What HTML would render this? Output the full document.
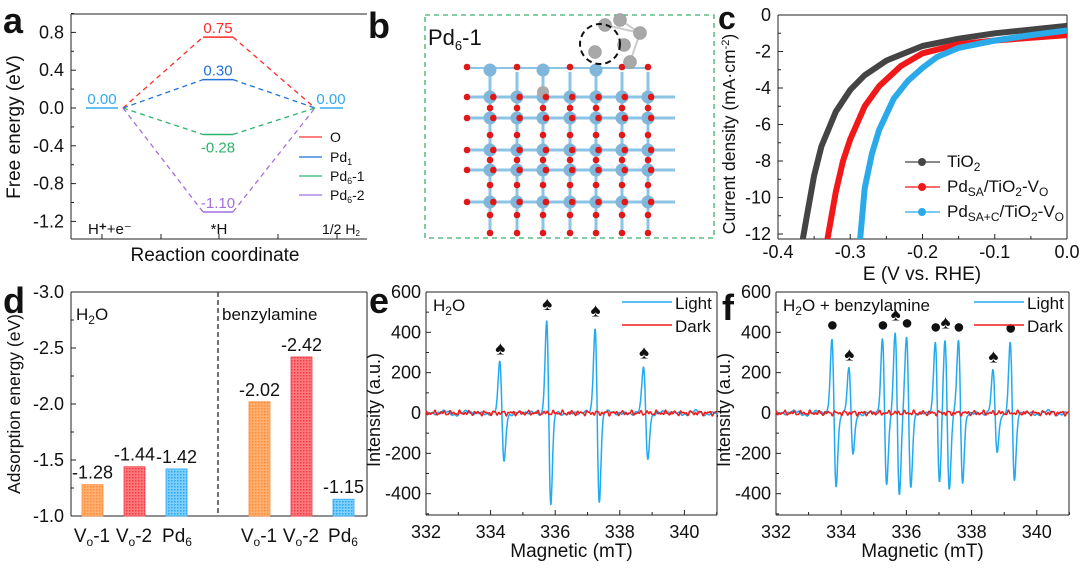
<!DOCTYPE html>
<html><head><meta charset="utf-8"><style>
body{margin:0;background:#fff;width:1080px;height:571px;overflow:hidden;font-family:"Liberation Sans",Arial,sans-serif}
svg text{font-family:"Liberation Sans",Arial,sans-serif}
</style></head><body>
<svg id="s" width="1080" height="571" viewBox="0 0 1080 571" xmlns="http://www.w3.org/2000/svg">
<defs>
<pattern id="po" width="3" height="3" patternUnits="userSpaceOnUse"><rect width="3" height="3" fill="#ffb070"/><rect width="1.5" height="1.5" fill="#ff8c3a"/></pattern>
<pattern id="pr" width="3" height="3" patternUnits="userSpaceOnUse"><rect width="3" height="3" fill="#ff7b7b"/><rect width="1.5" height="1.5" fill="#f03a4a"/></pattern>
<pattern id="pb" width="3" height="3" patternUnits="userSpaceOnUse"><rect width="3" height="3" fill="#7fd0ff"/><rect width="1.5" height="1.5" fill="#2aa4f0"/></pattern>
<clipPath id="cc"><rect x="778" y="15" width="289" height="224"/></clipPath>
</defs>
<g id="g"></g>
</svg>
<script>
const g=document.getElementById('g');let h='';
function T(x,y,t,o){o=o||{};h+=`<text x="${x}" y="${y}" font-size="${o.s||18}" fill="${o.c||'#111'}" text-anchor="${o.a||'start'}" ${o.w?'font-weight="bold"':''} ${o.r?`transform="rotate(-90 ${x} ${y})"`:''}>${t}</text>`;}
function L(x1,y1,x2,y2,c,w,d){h+=`<line x1="${x1}" y1="${y1}" x2="${x2}" y2="${y2}" stroke="${c||'#222'}" stroke-width="${w||1}" ${d?`stroke-dasharray="${d}"`:''}/>`;}
function P(pts,c,w,extra){h+=`<polyline fill="none" stroke="${c}" stroke-width="${w}" stroke-linejoin="round" points="${pts.map(p=>p[0].toFixed(1)+','+p[1].toFixed(1)).join(' ')}" ${extra||''}/>`;}
// panel letters
T(3,33,'a',{s:36,w:1});T(368,38,'b',{s:36,w:1});T(718,29,'c',{s:32,w:1});T(3,313,'d',{s:36,w:1});T(369,313,'e',{s:36,w:1});T(722,320,'f',{s:36,w:1});
// ===== a
L(71,14,367,14);L(71,14,71,239);L(71,239,367,239);
const ya=v=>108-v*94.5;
[0.8,0.4,0,-0.4,-0.8,-1.2].forEach(v=>{L(71,ya(v),76,ya(v));T(64,ya(v)+6,v.toFixed(1),{a:'end'});});
[-1,-0.6,-0.2,0.2,0.6,1.0].forEach(v=>L(71,ya(v),74,ya(v)));
[102,161,219,278,337].forEach(x=>L(x,239,x,234));
T(20,127,'Free energy (eV)',{r:1,a:'middle',s:19});
T(215,261,'Reaction coordinate',{a:'middle',s:19});
L(86,108,118,108,'#33aaee',1.5);L(320,108,343,108,'#33aaee',1.5);
T(102,104,'0.00',{a:'middle',c:'#33aaee',s:15});T(331,104,'0.00',{a:'middle',c:'#33aaee',s:15});
[[0.75,'#ff2a2a','0.75',-1],[0.30,'#1f72d6','0.30',-1],[-0.28,'#2db36b','-0.28',1],[-1.10,'#a070e0','-1.10',-1]].forEach(([v,c,t,p])=>{
 const y=ya(v);L(123,108,203,y,c,1.3,'5,4');L(233,y,315,108,c,1.3,'5,4');L(203,y,233,y,c,1.5);
 T(218,p<0?y-4:y+18,t,{a:'middle',c:c,s:15});});
[['#ff3030','O',141],['#1f72d6','Pd<tspan font-size="9" dy="3">1</tspan>',161],['#2db36b','Pd<tspan font-size="9" dy="3">6</tspan><tspan dy="-3">-1</tspan>',180],['#a070e0','Pd<tspan font-size="9" dy="3">6</tspan><tspan dy="-3">-2</tspan>',199]].forEach(([c,t,y])=>{L(299,y-4,322,y-4,c,1.2);T(330,y+1,t,{s:14});});
T(88,234,'H<tspan font-weight="bold">⁺</tspan>+e⁻',{s:15});T(219,234,'*H',{a:'middle',s:15});T(322,234,'1/2 H<tspan font-size="8" dy="2">2</tspan>',{s:14});
// ===== b
h+='<rect x="425" y="15" width="289" height="223" fill="none" stroke="#3cb06a" stroke-width="1.3" stroke-dasharray="5,4"/>';
T(428,45,'Pd<tspan font-size="13" dy="5">6</tspan><tspan dy="-5">-1</tspan>',{s:22});
const xs=[490,517,543,570,596,622,648],ys=[97,118,150,170,202];
ys.forEach(y=>L(467,y,675,y,'#8cc4e6',3));
xs.forEach(x=>L(x,72,x,233,'#8cc4e6',3));
L(467,68,650,68,'#8cc4e6',2);
ys.forEach((y,i)=>xs.forEach((x,j)=>{h+=`<circle cx="${x}" cy="${y}" r="6.5" fill="#7fb6da"/>`;}));
[490,543,596].forEach(x=>h+=`<circle cx="${x}" cy="70" r="6.5" fill="#7fb6da"/>`);
h+=`<circle cx="543" cy="92" r="6" fill="#aaa"/>`;
ys.forEach(y=>{for(let x=467;x<=676;x+=26.3)h+=`<circle cx="${x.toFixed(1)}" cy="${y}" r="3.3" fill="#e01818"/>`;});
xs.forEach(x=>{[108,135,160,185,215,233].forEach(y=>h+=`<circle cx="${x}" cy="${y}" r="3.3" fill="#e01818"/>`);});
[467,517,570,622,648].forEach(x=>h+=`<circle cx="${x}" cy="67" r="3.3" fill="#e01818"/>`);
L(605,25,640,33,'#ccc',2);L(640,33,630,62,'#ccc',2);L(620,20,640,33,'#ccc',2);
[[605,25],[640,33],[624,45],[595,52],[630,62],[620,20]].forEach(([x,y])=>h+=`<circle cx="${x}" cy="${y}" r="6.5" fill="#a8a8a8" stroke="#888" stroke-width=".5"/>`);
h+='<circle cx="600" cy="44" r="20" fill="none" stroke="#111" stroke-width="2" stroke-dasharray="6,4"/>';
// ===== c
L(778,15,1067,15);L(778,15,778,239);L(778,239,1067,239);L(1067,15,1067,239);
const yc=v=>15-v*18.25,xc=e=>1067+e*722.5;
[0,-2,-4,-6,-8,-10,-12].forEach(v=>{L(778,yc(v),783,yc(v));T(771,yc(v)+6,v,{a:'end'});});
[-1,-3,-5,-7,-9,-11].forEach(v=>L(778,yc(v),781,yc(v)));
[-0.4,-0.3,-0.2,-0.1,0].forEach(e=>{L(xc(e),239,xc(e),234);T(xc(e),258,e.toFixed(1),{a:'middle'});});
[-0.35,-0.25,-0.15,-0.05].forEach(e=>L(xc(e),239,xc(e),236));
T(735,134,'Current density (mA·cm<tspan font-size="11" dy="-6">-2</tspan><tspan dy="6">)</tspan>',{r:1,a:'middle',s:17.5});
T(922,280,'E (V vs. RHE)',{a:'middle',s:19});
const cur=[['#444',[[0,-0.6],[-0.05,-0.8],[-0.1,-1.0],[-0.15,-1.3],[-0.2,-1.7],[-0.25,-2.5],[-0.28,-3.3],[-0.3,-4.1],[-0.32,-5.3],[-0.34,-7.2],[-0.35,-8.8],[-0.36,-11],[-0.367,-12.6]]],
['#f01818',[[0,-1.1],[-0.1,-1.4],[-0.15,-1.6],[-0.2,-2.1],[-0.23,-2.8],[-0.26,-3.9],[-0.28,-5],[-0.3,-6.8],[-0.31,-8],[-0.32,-9.7],[-0.333,-12.6]]],
['#2aaae8',[[0,-0.85],[-0.05,-1.1],[-0.1,-1.4],[-0.15,-1.8],[-0.18,-2.3],[-0.2,-2.9],[-0.22,-3.6],[-0.24,-4.6],[-0.26,-6.3],[-0.27,-7.6],[-0.28,-9.5],[-0.287,-12.6]]]];
h+='<g clip-path="url(#cc)">';cur.forEach(([c,p])=>P(p.map(q=>[xc(q[0]),yc(q[1])]),c,6));h+='</g>';
[['#444','TiO<tspan font-size="12" dy="4">2</tspan>',166],['#f01818','Pd<tspan font-size="12" dy="4">SA</tspan><tspan dy="-4">/TiO</tspan><tspan font-size="12" dy="4">2</tspan><tspan dy="-4">-V</tspan><tspan font-size="12" dy="4">O</tspan>',191],['#2aaae8','Pd<tspan font-size="12" dy="4">SA+C</tspan><tspan dy="-4">/TiO</tspan><tspan font-size="12" dy="4">2</tspan><tspan dy="-4">-V</tspan><tspan font-size="12" dy="4">O</tspan>',216]].forEach(([c,t,y])=>{L(905,y-4,940,y-4,c,1.3);h+=`<circle cx="922" cy="${y-4}" r="4" fill="${c}"/>`;T(947,y+1,t,{s:17});});
// ===== d
L(71,292,367,292);L(71,292,71,516);L(71,516,367,516);L(367,292,367,516);
const yd=v=>292+(v+3)*112;
[-3,-2.5,-2,-1.5,-1].forEach(v=>{L(71,yd(v),76,yd(v));T(64,yd(v)+6,v.toFixed(1),{a:'end'});});
[-2.75,-2.25,-1.75,-1.25].forEach(v=>L(71,yd(v),74,yd(v)));
L(218,292,218,516,'#444',1.5,'5,3');
T(20,404,'Adsorption energy (eV)',{r:1,a:'middle',s:17.5});
T(76,320,'H<tspan font-size="12" dy="4">2</tspan><tspan dy="-4">O</tspan>',{s:17});T(222,320,'benzylamine',{s:17});
[[82,-1.28,'po','#ff8c3a'],[124,-1.44,'pr','#f03a4a'],[166,-1.42,'pb','#2aa4f0'],[249,-2.02,'po','#ff8c3a'],[291,-2.42,'pr','#f03a4a'],[333,-1.15,'pb','#2aa4f0']].forEach(([x,v,p,c])=>{
 h+=`<rect x="${x}" y="${yd(v)}" width="21" height="${516-yd(v)}" fill="url(#${p})" stroke="${c}" stroke-width=".8"/>`;T(x+10.5,yd(v)-6,v.toFixed(2),{a:'middle'});});
['V<tspan font-size="12" dy="4">o</tspan><tspan dy="-4">-1</tspan>','V<tspan font-size="12" dy="4">o</tspan><tspan dy="-4">-2</tspan>','Pd<tspan font-size="12" dy="4">6</tspan>'].forEach((t,i)=>{T([92,134,177][i],542,t,{a:'middle',s:19});T([259,301,343][i],542,t,{a:'middle',s:19});});
// ===== e & f
function esr(x0,x1,mx,pk,sp,dots,lbl){
 L(x0,292,x1,292);L(x0,292,x0,515);L(x0,515,x1,515);L(x1,292,x1,515);
 const ye=v=>413-v*0.2017,xe=m=>x0+(m-332)*mx;
 [600,400,200,0,-200,-400].forEach(v=>{L(x0,ye(v),x0+5,ye(v));T(x0-5,ye(v)+6,v,{a:'end'});});
 [500,300,100,-100,-300,-500].forEach(v=>L(x0,ye(v),x0+3,ye(v)));
 for(let m=332;m<=340;m+=2){L(xe(m),515,xe(m),510);T(xe(m),538,m,{a:'middle'});L(xe(m+1),515,xe(m+1),512);}
 T(x0-46,410,'Intensity (a.u.)',{r:1,a:'middle',s:18});
 T((x0+x1)/2,557,'Magnetic (mT)',{a:'middle',s:19});
 T(x0+7,311,lbl,{s:17});
 let pts=[],pd=[];const w=0.065;
 for(let m=332;m<=341;m+=0.01){let v=0;pk.forEach(([c,a])=>{const d=(m-c)/w;v+=-a*d*Math.exp(0.5)*Math.exp(-d*d/2);});
  v+=12*Math.sin(m*9.3)*Math.sin(m*2.1)+5*Math.sin(m*37);pts.push([xe(m),ye(v)]);
  let dv=6*Math.sin(m*23.7)+5*Math.sin(m*41.3+1)+4*Math.sin(m*67);pd.push([xe(m),ye(dv)]);}
 P(pts,'#22aaf0',1.5);P(pd,'#f01c1c',1.5);
 sp.forEach(([m,v])=>T(xe(m),ye(v)-8,'♠',{a:'middle',s:19}));
 dots.forEach(([m,v])=>h+=`<circle cx="${xe(m)}" cy="${ye(v)-14}" r="4.3" fill="#111"/>`);
 L(x1-95,302,x1-45,302,'#22aaf0',1.5);T(x1-42,309,'Light',{s:17});
 L(x1-95,325,x1-45,325,'#f01c1c',1.5);T(x1-42,332,'Dark',{s:17});
}
esr(426,717,32.3,[[334.35,245],[335.8,460],[337.3,430],[338.8,225]],[[334.3,250],[335.75,470],[337.25,440],[338.75,230]],[],'H<tspan font-size="12" dy="4">2</tspan><tspan dy="-4">O</tspan>');
const sp=[[334.3,210],[335.72,410],[337.25,370],[338.72,200]],dt=[[333.78,360],[335.33,360],[336.07,370],[336.95,350],[337.66,350],[339.25,345]];
esr(776,1069,32.6,sp.concat(dt),sp.map(([m,v])=>[m-0.05,v+10]),dt.map(([m,v])=>[m-0.05,v+5]),'H<tspan font-size="12" dy="4">2</tspan><tspan dy="-4">O + benzylamine</tspan>');
g.innerHTML=h;
</script>
</body></html>
